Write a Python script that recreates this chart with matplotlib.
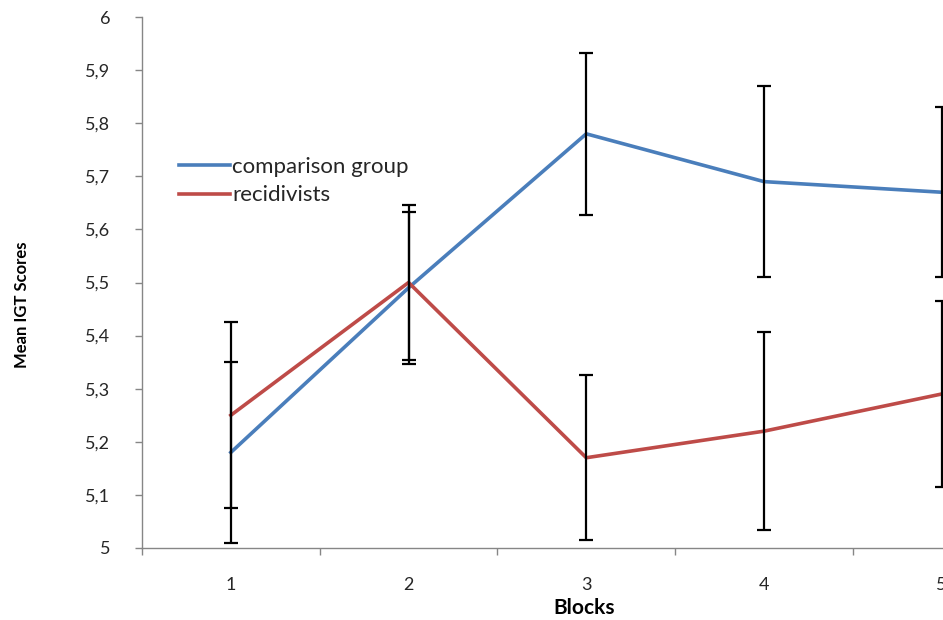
import matplotlib
matplotlib.use("Agg")
import matplotlib.pyplot as plt
from matplotlib.ticker import FixedLocator, FuncFormatter

plt.rcParams['font.family'] = ['Lato', 'DejaVu Sans']

blocks = [1, 2, 3, 4, 5]
comparison = [5.18, 5.49, 5.78, 5.69, 5.67]
comparison_err = [0.17, 0.143, 0.152, 0.18, 0.16]
recidivists = [5.25, 5.50, 5.17, 5.22, 5.29]
recidivists_err = [0.175, 0.146, 0.155, 0.186, 0.175]

BLUE = '#4A7EBB'
RED = '#BE4B48'
GREY = '#868686'
TXT = '#262626'

fig = plt.figure(figsize=(9.43, 6.2), dpi=100)
# axes runs past the right edge: the original picture is cropped at block 5
ax = fig.add_axes([142 / 943, 72 / 620, 888.5 / 943, 531 / 620])

ax.plot(blocks, comparison, color=BLUE, lw=2.6, label='comparison group', zorder=3)
ax.plot(blocks, recidivists, color=RED, lw=2.6, label='recidivists', zorder=3)
ax.errorbar(blocks, comparison, yerr=comparison_err, fmt='none', ecolor='black',
            elinewidth=1.6, capsize=5, capthick=1.6, zorder=4)
ax.errorbar(blocks, recidivists, yerr=recidivists_err, fmt='none', ecolor='black',
            elinewidth=1.6, capsize=5, capthick=1.6, zorder=4)

# X axis: category style, ticks between blocks, labels on blocks
ax.set_xlim(0.5, 5.5)
ax.xaxis.set_major_locator(FixedLocator([0.5, 1.5, 2.5, 3.5, 4.5, 5.5]))
ax.xaxis.set_minor_locator(FixedLocator(blocks))
ax.xaxis.set_major_formatter(FuncFormatter(lambda v, p: ''))
ax.xaxis.set_minor_formatter(FuncFormatter(lambda v, p: '%d' % v))
ax.tick_params(axis='x', which='major', direction='out', length=5, width=1, color=GREY)
ax.tick_params(axis='x', which='minor', length=0, pad=21, labelsize=13, labelcolor=TXT)

# Y axis
ax.set_ylim(5, 6)
ax.yaxis.set_major_locator(FixedLocator([5 + i / 10 for i in range(11)]))
ax.yaxis.set_major_formatter(FuncFormatter(
    lambda v, p: ('%g' % round(v, 1)).replace('.', ',')))
ax.tick_params(axis='y', direction='out', length=5, width=1, color=GREY,
               labelsize=13, labelcolor=TXT, pad=18)

for s in ['top', 'right']:
    ax.spines[s].set_visible(False)
for s in ['left', 'bottom']:
    ax.spines[s].set_color(GREY)
    ax.spines[s].set_linewidth(1)

fig.text(584 / 943, 1 - 608 / 620, 'Blocks', ha='center', va='center',
         fontsize=15, fontweight='bold', color='black')
fig.text(22 / 943, 1 - 305 / 620, 'Mean IGT Scores', ha='center', va='center',
         rotation=90, fontsize=12, fontweight='bold', color='black')

leg = ax.legend(loc='upper left', bbox_to_anchor=((179 - 142) / 888.5, 1 - (157 - 17) / 531),
                frameon=False, fontsize=16, handlelength=2.3, handletextpad=0.1,
                labelspacing=0.38, borderaxespad=0, borderpad=0)
for t in leg.get_texts():
    t.set_color(TXT)

fig.savefig('out.png', dpi=100)
